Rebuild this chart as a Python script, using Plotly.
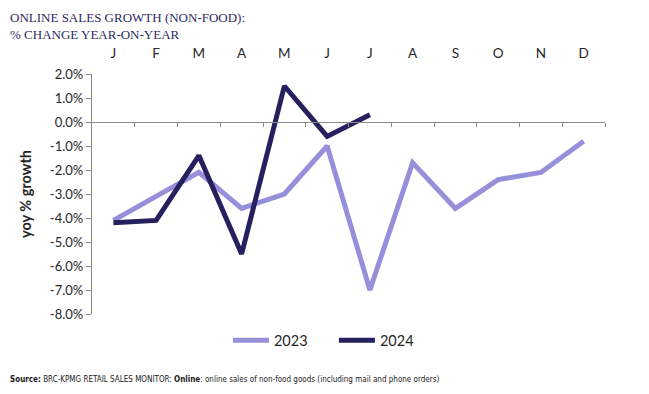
import plotly.graph_objects as go

months = ["J", "F", "M", "A", "M", "J", "J", "A", "S", "O", "N", "D"]
growth_2023 = [-4.1, -3.1, -2.1, -3.6, -3.0, -1.0, -7.0, -1.7, -3.6, -2.4, -2.1, -0.8]
growth_2024 = [-4.2, -4.1, -1.4, -5.5, 1.5, -0.6, 0.3]
y_ticks = [2, 1, 0, -1, -2, -3, -4, -5, -6, -7, -8]

xpos = list(range(len(months)))
LIGHT = "#9590d9"
DARK = "#25215e"
AXIS = "#8a8a8a"
FONT = "Lato"

fig = go.Figure()
fig.add_trace(go.Scatter(x=xpos, y=growth_2023, mode="lines", name="2023",
                         line=dict(color=LIGHT, width=5), hoverinfo="skip"))
fig.add_trace(go.Scatter(x=xpos[:len(growth_2024)], y=growth_2024, mode="lines", name="2024",
                         line=dict(color=DARK, width=5), hoverinfo="skip"))
# helper trace to carry the zero-crossing category axis
fig.add_trace(go.Scatter(x=xpos, y=growth_2023, xaxis="x2", mode="lines",
                         line=dict(color="rgba(0,0,0,0)", width=0), showlegend=False, hoverinfo="skip"))

fig.update_layout(
    width=641, height=386,
    margin=dict(l=84, r=44, t=66, b=80),
    paper_bgcolor="white", plot_bgcolor="white",
    font=dict(family=FONT, color="#262626"),
    xaxis=dict(range=[-0.5, 11.5], side="top", tickvals=xpos, ticktext=months,
               showgrid=False, zeroline=False, showline=False,
               ticks="outside", ticklen=10, tickcolor="rgba(0,0,0,0)",
               tickfont=dict(size=13.5, family=FONT, color="#262626")),
    xaxis2=dict(range=[-0.5, 11.5], overlaying="x", anchor="free", position=0.8,
                side="bottom", showgrid=False, zeroline=False, showline=True,
                linecolor=AXIS, linewidth=1.3, showticklabels=False,
                tickvals=[i + 0.5 for i in xpos], ticks="outside", ticklen=4,
                tickcolor=AXIS, tickwidth=1.3),
    yaxis=dict(range=[-8, 2], tickvals=y_ticks,
               ticktext=[f"{v:.1f}%" for v in y_ticks],
               showgrid=False, zeroline=False, showline=True, linecolor=AXIS, linewidth=1.3,
               ticks="outside", ticklen=5, tickcolor=AXIS, tickwidth=1.3,
               tickfont=dict(size=13, family=FONT, color="#262626"),
               title=dict(text="<b>yoy % growth</b>", font=dict(size=14.5, family=FONT, color="#262626"),
                          standoff=14)),
    legend=dict(orientation="h", x=0.265, xanchor="left", y=-0.11, yanchor="middle",
                font=dict(size=14.5, family=FONT, color="#262626"),
                itemwidth=36, entrywidth=55, bgcolor="rgba(0,0,0,0)"),
    showlegend=True,
)

fig.add_annotation(xref="paper", yref="paper", x=-84/513, y=306 / 240,
                   xanchor="left", yanchor="top", align="left", showarrow=False,
                   text="ONLINE SALES GROWTH (NON-FOOD):<br>% CHANGE YEAR-ON-YEAR",
                   font=dict(family="Liberation Serif", size=13, color="#2d2a5e"))
fig.add_annotation(xref="paper", yref="paper", x=-84/513, y=(306 - 371) / 240,
                   xanchor="left", yanchor="middle", align="left", showarrow=False,
                   text="<b>Source:</b> BRC-KPMG RETAIL SALES MONITOR: <b>Online</b>: online sales of non-food goods (including mail and phone orders)",
                   font=dict(family="DejaVu Sans Condensed, Lato", size=8, color="#1a1a1a"))

fig.write_html("out.html")
